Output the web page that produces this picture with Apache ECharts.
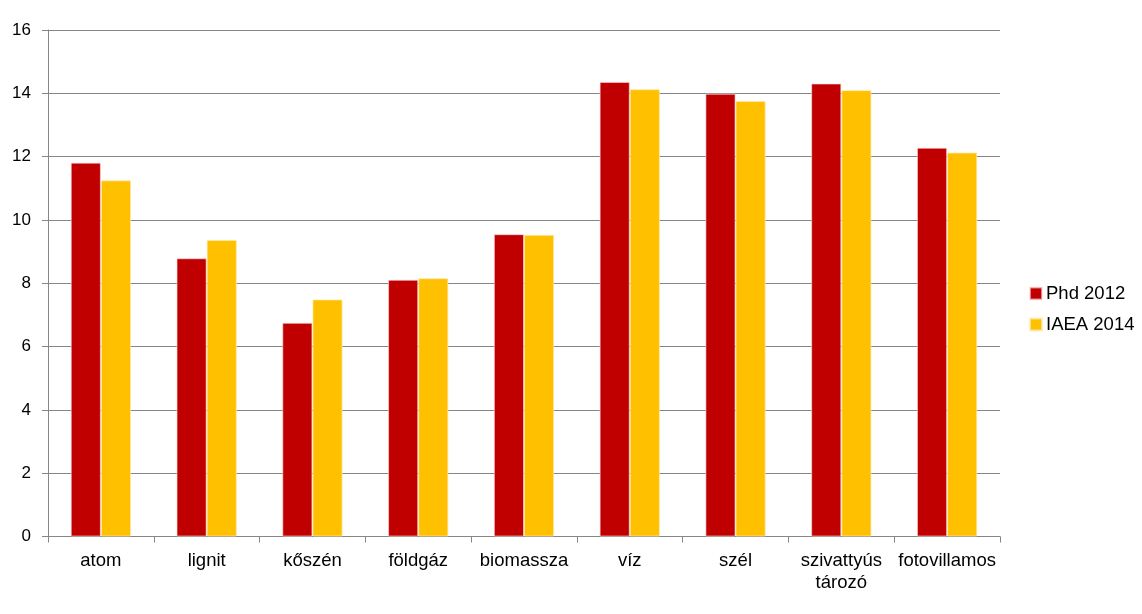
<!DOCTYPE html>
<html>
<head>
<meta charset="utf-8">
<script src="https://cdn.jsdelivr.net/npm/echarts@6/dist/echarts.min.js"></script>
<style>html,body{margin:0;padding:0;background:#fff}#c{width:1142px;height:614px}</style>
</head>
<body>
<div id="c"></div>
<script>
const categories = ['atom', 'lignit', 'kőszén', 'földgáz', 'biomassza', 'víz', 'szél', 'szivattyús\ntározó', 'fotovillamos'];
const phd2012 = [11.81, 8.79, 6.75, 8.11, 9.55, 14.36, 13.99, 14.31, 12.28];
const iaea2014 = [11.25, 9.37, 7.49, 8.16, 9.53, 14.13, 13.76, 14.10, 12.13];
const seriesNames = ['Phd 2012', 'IAEA 2014'];
const yTicks = { min: 0, max: 16, interval: 2 };

const font = 'Liberation Sans, Arial, sans-serif';
const grey = '#868686';
const chart = echarts.init(document.getElementById('c'), null, { renderer: 'canvas' });
chart.setOption({
  animation: false,
  backgroundColor: '#fff',
  grid: { left: 48, top: 30, right: 142, bottom: 77.5, containLabel: false },
  legend: {
    orient: 'vertical',
    left: 1024,
    top: 279,
    itemWidth: 12,
    itemHeight: 12,
    itemGap: 12,
    icon: 'rect',
    textStyle: { fontFamily: font, fontSize: 18.5, color: '#000', padding: [0, 0, 0, -1] },
    data: seriesNames
  },
  xAxis: {
    type: 'category',
    data: categories,
    axisLine: { lineStyle: { color: grey, width: 1 } },
    axisTick: { show: true, length: 6, lineStyle: { color: grey }, alignWithLabel: false },
    axisLabel: { fontFamily: font, fontSize: 18.5, color: '#000', margin: 13, lineHeight: 22, interval: 0 }
  },
  yAxis: {
    type: 'value',
    min: yTicks.min, max: yTicks.max, interval: yTicks.interval,
    axisLine: { show: true, lineStyle: { color: grey, width: 1 } },
    axisTick: { show: true, length: 6, lineStyle: { color: grey } },
    axisLabel: { fontFamily: font, fontSize: 17, color: '#000', margin: 17 },
    splitLine: { show: true, lineStyle: { color: grey, width: 1 } }
  },
  series: [
    {
      name: seriesNames[0], type: 'bar', data: phd2012,
      barGap: '0%', barCategoryGap: '43%',
      itemStyle: { color: '#C00000', borderColor: 'rgba(255,220,220,0.6)', borderWidth: 1 }
    },
    {
      name: seriesNames[1], type: 'bar', data: iaea2014,
      barGap: '0%', barCategoryGap: '43%',
      itemStyle: { color: '#FFC000', borderColor: 'rgba(255,235,180,0.7)', borderWidth: 1 }
    }
  ]
});
</script>
</body>
</html>
